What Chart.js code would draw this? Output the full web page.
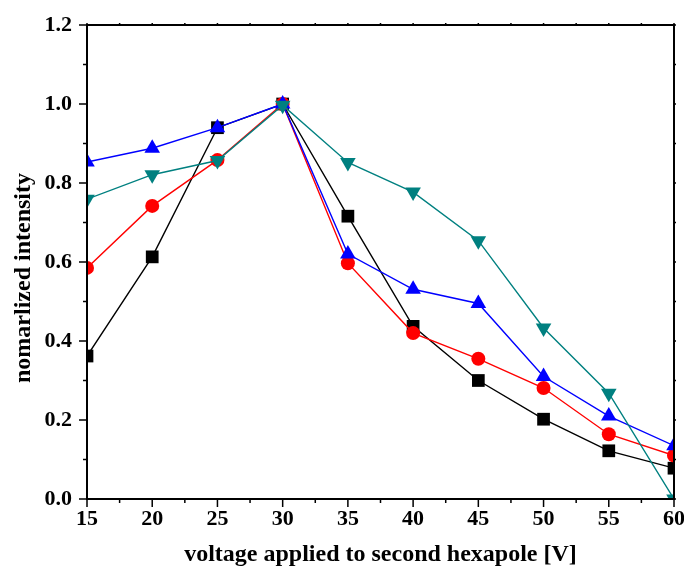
<!DOCTYPE html>
<html>
<head>
<meta charset="utf-8">
<title>normalized intensity vs hexapole voltage</title>
<script src="https://cdn.jsdelivr.net/npm/chart.js@4.4.0/dist/chart.umd.min.js"></script>
<style>
  html, body { margin: 0; padding: 0; background: #fff; }
  #wrap { width: 684px; height: 578px; }
</style>
</head>
<body>
<div id="wrap"><canvas id="hexChart" width="684" height="578"></canvas></div>
<script>
// voltage on the second hexapole [V]
const voltages = [15, 20, 25, 30, 35, 40, 45, 50, 55, 60];

// normalized intensities, one array per series
const squareSeries   = [0.362, 0.613, 0.940, 1.000, 0.716, 0.437, 0.300, 0.202, 0.122, 0.078];
const circleSeries   = [0.585, 0.742, 0.858, 1.000, 0.597, 0.420, 0.355, 0.281, 0.164, 0.110];
const triUpSeries    = [0.853, 0.888, 0.940, 1.000, 0.620, 0.531, 0.495, 0.310, 0.210, 0.135];
const triDownSeries  = [0.759, 0.821, 0.857, 0.997, 0.852, 0.777, 0.654, 0.433, 0.268, 0.000];

// tick labels
const xTickValues = [15, 20, 25, 30, 35, 40, 45, 50, 55, 60];
const yTickValues = [0.0, 0.2, 0.4, 0.6, 0.8, 1.0, 1.2];

const yTitle = 'nomarlized intensity';
const xTitle = 'voltage applied to second hexapole [V]';

const FONT = "'Liberation Serif', 'Times New Roman', serif";

function toPairs(values){
  return voltages.map((v, i) => ({ x: v, y: values[i] }));
}

// frame box plus major/minor tick marks, placed with the chart's own scales
const frameTicks = {
  id: 'frameTicks',
  afterDatasetsDraw(chart){
    const { ctx, chartArea: a, scales: { x, y } } = chart;
    ctx.save();
    ctx.strokeStyle = '#000';
    ctx.lineWidth = 1.5;

    const xMinor = xTickValues.slice(1).map((v, i) => (v + xTickValues[i]) / 2);
    const yMinor = yTickValues.slice(1).map((v, i) => (v + yTickValues[i]) / 2);

    ctx.beginPath();
    // bottom: outward, long major / short minor
    xTickValues.forEach(v => { const px = x.getPixelForValue(v); ctx.moveTo(px, a.bottom); ctx.lineTo(px, a.bottom + 8); });
    xMinor.forEach(v => { const px = x.getPixelForValue(v); ctx.moveTo(px, a.bottom); ctx.lineTo(px, a.bottom + 4); });
    // left
    yTickValues.forEach(v => { const py = y.getPixelForValue(v); ctx.moveTo(a.left, py); ctx.lineTo(a.left - 8, py); });
    yMinor.forEach(v => { const py = y.getPixelForValue(v); ctx.moveTo(a.left, py); ctx.lineTo(a.left - 4, py); });
    // top and right: tiny marks only
    xTickValues.concat(xMinor).forEach(v => { const px = x.getPixelForValue(v); ctx.moveTo(px, a.top); ctx.lineTo(px, a.top - 2); });
    yTickValues.concat(yMinor).forEach(v => { const py = y.getPixelForValue(v); ctx.moveTo(a.right, py); ctx.lineTo(a.right + 2, py); });
    ctx.stroke();

    ctx.lineWidth = 2;
    ctx.strokeRect(a.left, a.top, a.right - a.left, a.bottom - a.top);
    ctx.restore();
  }
};

// y axis title, sits a bit below the middle of the axis
const yTitlePlugin = {
  id: 'yTitlePlugin',
  afterDraw(chart){
    const { ctx } = chart;
    ctx.save();
    ctx.translate(24, 278);
    ctx.rotate(-Math.PI / 2);
    ctx.fillStyle = '#000';
    ctx.font = 'bold 24px ' + FONT;
    ctx.textAlign = 'center';
    ctx.textBaseline = 'middle';
    ctx.fillText(yTitle, 0, 0);
    ctx.restore();
  }
};

function makeSet(data, color, style, radius, rotation, order){
  return {
    data: toPairs(data),
    borderColor: color,
    backgroundColor: color,
    pointBackgroundColor: color,
    pointBorderColor: color,
    pointBorderWidth: 0,
    pointStyle: style,
    pointRadius: radius,
    pointRotation: rotation,
    borderWidth: 1.4,
    tension: 0,
    order: order
  };
}

const ctx = document.getElementById('hexChart').getContext('2d');
const chart = new Chart(ctx, {
  type: 'line',
  data: {
    datasets: [
      makeSet(squareSeries,  '#000000', 'rect',     9, 0,   4),
      makeSet(circleSeries,  '#ff0000', 'circle',   7, 0,   3),
      makeSet(triUpSeries,   '#0000ff', 'triangle', 9, 0,   2),
      makeSet(triDownSeries, '#008080', 'triangle', 9, 180, 1)
    ]
  },
  options: {
    responsive: false,
    devicePixelRatio: 1,
    animation: false,
    layout: { padding: { left: 0, right: 10, top: 25, bottom: 0 } },
    plugins: {
      legend: { display: false },
      tooltip: { enabled: false }
    },
    scales: {
      x: {
        type: 'linear',
        min: 15, max: 60,
        afterBuildTicks: s => { s.ticks = xTickValues.map(v => ({ value: v })); },
        afterFit: s => { s.height = 79; s.paddingLeft = 0; s.paddingRight = 0; },
        grid: { display: false, drawTicks: false },
        border: { display: false },
        ticks: {
          color: '#000',
          padding: 7,
          font: { family: FONT, size: 22, weight: 'bold' },
          maxRotation: 0,
          callback: v => String(v)
        },
        title: {
          display: true,
          text: xTitle,
          color: '#000',
          padding: { top: 0, bottom: 9 },
          font: { family: FONT, size: 24, weight: 'bold' }
        }
      },
      y: {
        type: 'linear',
        min: 0, max: 1.2,
        afterBuildTicks: s => { s.ticks = yTickValues.map(v => ({ value: v })); },
        afterFit: s => { s.width = 87; s.paddingTop = 0; s.paddingBottom = 0; },
        grid: { display: false, drawTicks: false },
        border: { display: false },
        ticks: {
          color: '#000',
          padding: 15,
          font: { family: FONT, size: 22, weight: 'bold' },
          callback: v => Number(v).toFixed(1)
        }
      }
    }
  },
  plugins: [frameTicks, yTitlePlugin]
});
</script>
</body>
</html>
